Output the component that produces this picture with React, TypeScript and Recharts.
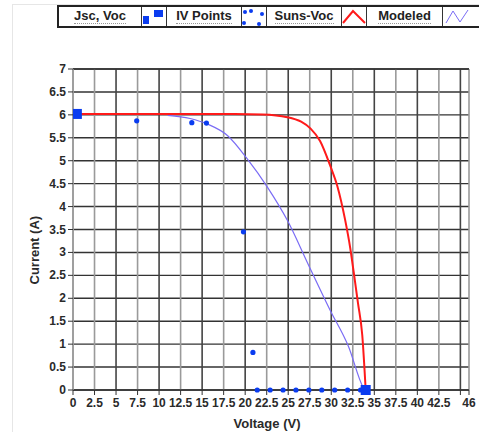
import React from 'react';
import {
  ComposedChart, Line, Scatter, XAxis, YAxis, CartesianGrid, ReferenceLine, Legend,
} from 'recharts';

const jscVoc = [
  { x: 0.45, y: 6.02 },
  { x: 34.0, y: 0 },
];

const ivPoints = [
  { x: 7.4, y: 5.87 }, { x: 13.8, y: 5.83 }, { x: 15.5, y: 5.82 }, { x: 19.8, y: 3.45 },
  { x: 20.9, y: 0.82 }, { x: 21.4, y: 0 }, { x: 22.9, y: 0 }, { x: 24.4, y: 0 },
  { x: 25.9, y: 0 }, { x: 27.4, y: 0 }, { x: 28.9, y: 0 }, { x: 30.4, y: 0 },
  { x: 31.9, y: 0 }, { x: 33.4, y: 0 }, { x: 33.8, y: 0 },
];

const sunsVoc = [
  { x: 0, y: 6.02 }, { x: 10, y: 6.02 }, { x: 18.8, y: 6.02 }, { x: 22, y: 6.01 },
  { x: 24.9, y: 5.95 }, { x: 26.5, y: 5.85 }, { x: 27.6, y: 5.7 }, { x: 28.7, y: 5.43 },
  { x: 29.9, y: 4.88 }, { x: 30.7, y: 4.45 }, { x: 31.6, y: 3.72 }, { x: 32.2, y: 3.1 },
  { x: 32.6, y: 2.58 }, { x: 33.1, y: 1.9 }, { x: 33.6, y: 1.2 }, { x: 34.0, y: 0 },
];

const modeled = [
  { x: 11, y: 5.99 }, { x: 13.6, y: 5.92 }, { x: 15.6, y: 5.8 }, { x: 18, y: 5.54 },
  { x: 20.2, y: 5.05 }, { x: 22.6, y: 4.42 }, { x: 24.9, y: 3.7 }, { x: 27.3, y: 2.75 },
  { x: 29.9, y: 1.73 }, { x: 32, y: 0.95 }, { x: 33.7, y: 0.06 }, { x: 33.9, y: 0 },
];

const xTicks = [0, 2.5, 5, 7.5, 10, 12.5, 15, 17.5, 20, 22.5, 25, 27.5, 30, 32.5, 35, 37.5, 40, 42.5, 45, 46];
const xHiddenLabels = [45];
const yTicks = [0, 0.5, 1, 1.5, 2, 2.5, 3, 3.5, 4, 4.5, 5, 5.5, 6, 6.5, 7];
const xGridMajor = [5, 10, 15, 20, 25, 30, 35, 40, 45];
const xGridMinor = [0, 2.5, 7.5, 12.5, 17.5, 22.5, 27.5, 32.5, 37.5, 42.5, 46];

const legendItems = ['Jsc, Voc', 'IV Points', 'Suns-Voc', 'Modeled'];

const FONT = 'Arial, "Liberation Sans", Helvetica, sans-serif';
const BLUE = '#0a3cf0';
const RED = '#ff1a1a';
const MODEL = '#7a6cf5';

const SquareShape = (props: any) => {
  const { cx, cy } = props;
  if (cx == null || cy == null) return null;
  return <rect x={cx - 5} y={cy - 5} width={10} height={10} fill={BLUE} />;
};

const DotShape = (props: any) => {
  const { cx, cy } = props;
  if (cx == null || cy == null) return null;
  return <circle cx={cx} cy={cy} r={2.6} fill={BLUE} />;
};

const XTick = (props: any) => {
  const { x, y, payload } = props;
  if (xHiddenLabels.includes(payload.value)) return null;
  return (
    <text x={x} y={y + 10} textAnchor="middle" fontSize={12} fontWeight="bold" fill="#2a2a2a" fontFamily={FONT}>
      {payload.value}
    </text>
  );
};

const YTick = (props: any) => {
  const { x, y, payload } = props;
  return (
    <text x={x} y={y + 4} textAnchor="end" fontSize={12} fontWeight="bold" fill="#2a2a2a" fontFamily={FONT}>
      {payload.value}
    </text>
  );
};

const icons = [
  <svg width={24} height={20} key="i0">
    <rect x={1} y={9} width={6} height={8} fill={BLUE} />
    <rect x={12} y={3} width={9} height={7} fill={BLUE} />
  </svg>,
  <svg width={24} height={20} key="i1">
    <circle cx={3} cy={5} r={2} fill={BLUE} />
    <circle cx={9} cy={4} r={2} fill={BLUE} />
    <circle cx={2} cy={16} r={2} fill={BLUE} />
    <circle cx={17} cy={17} r={2} fill={BLUE} />
    <circle cx={20} cy={7} r={2} fill={BLUE} />
  </svg>,
  <svg width={24} height={20} key="i2">
    <polyline points="1,16 11,4 23,16" fill="none" stroke={RED} strokeWidth={2} />
  </svg>,
  <svg width={30} height={20} key="i3">
    <polyline points="3,16 10,4 17,15 25,3" fill="none" stroke={MODEL} strokeWidth={1} />
  </svg>,
];

const textWidths = [82, 74, 74, 75];
const iconWidths = [24, 24, 24, 40];

const LegendBox = () => (
  <div
    style={{
      display: 'flex',
      border: '2px solid #222',
      height: 19,
      width: 'max-content',
      background: '#fff',
      fontFamily: FONT,
      fontWeight: 'bold',
      fontSize: 13,
      color: '#222',
      whiteSpace: 'nowrap',
    }}
  >
    {legendItems.map((label, i) => (
      <React.Fragment key={label}>
        <div
          style={{
            width: textWidths[i],
            flexShrink: 0,
            borderRight: '1px solid #333',
            borderLeft: i === 0 ? 'none' : '1px solid #333',
            display: 'flex',
            alignItems: 'center',
            justifyContent: 'center',
          }}
        >
          <span style={{ borderBottom: '1px dotted #999', lineHeight: '14px' }}>{label}</span>
        </div>
        <div style={{ width: iconWidths[i], flexShrink: 0, display: 'flex', alignItems: 'center', justifyContent: 'flex-start' }}>
          {icons[i]}
        </div>
      </React.Fragment>
    ))}
  </div>
);

export default function App() {
  return (
    <div style={{ position: 'absolute', left: 0, top: 0, width: 479, height: 432, overflow: 'hidden', background: '#fff' }}>
      <div style={{ position: 'absolute', left: 12, top: 4, right: 0, bottom: 0, borderLeft: '1px solid #e6e6e6', borderTop: '1px solid #e6e6e6' }} />
      <ComposedChart
        width={479}
        height={432}
        margin={{ top: 46, right: 10, bottom: 0, left: 0 }}
        style={{ position: 'absolute', left: 0, top: 0, overflow: 'hidden' }}
      >
        <CartesianGrid vertical={false} stroke="#333" strokeWidth={1.4} />
        {xGridMinor.map((v) => (
          <ReferenceLine key={'mn' + v} x={v} stroke="#9a9a9a" strokeWidth={1.6} ifOverflow="extendDomain" />
        ))}
        {xGridMajor.map((v) => (
          <ReferenceLine key={'mj' + v} x={v} stroke="#444" strokeWidth={1.6} />
        ))}
        <ReferenceLine y={7} stroke="#333" strokeWidth={1.4} />
        <XAxis
          type="number"
          dataKey="x"
          domain={[0, 46]}
          ticks={xTicks}
          interval={0}
          allowDataOverflow
          height={42}
          tick={<XTick />}
          tickSize={5}
          axisLine={{ stroke: '#333', strokeWidth: 1.4 }}
          tickLine={{ stroke: '#333' }}
          label={{ value: 'Voltage (V)', position: 'insideBottom', offset: 4, fontSize: 13, fontWeight: 'bold', fill: '#2a2a2a', fontFamily: FONT, dx: -4 }}
        />
        <YAxis
          type="number"
          dataKey="y"
          domain={[0, 7]}
          ticks={yTicks}
          interval={0}
          width={73}
          tick={<YTick />}
          tickSize={5}
          axisLine={{ stroke: '#999', strokeWidth: 1.4 }}
          tickLine={{ stroke: '#333' }}
          label={{ value: 'Current (A)', angle: -90, position: 'insideLeft', offset: 34, dy: 55, fontSize: 13, fontWeight: 'bold', fill: '#2a2a2a', fontFamily: FONT }}
        />
        <Legend content={<LegendBox />} verticalAlign="top" align="left" wrapperStyle={{ top: 5, left: 57, width: 440 }} />
        <Line data={modeled} dataKey="y" type="monotone" stroke={MODEL} strokeWidth={1.2} dot={false} isAnimationActive={false} legendType="none" />
        <Line data={sunsVoc} dataKey="y" type="monotone" stroke={RED} strokeWidth={2} dot={false} isAnimationActive={false} legendType="none" />
        <Scatter data={ivPoints} dataKey="y" shape={<DotShape />} isAnimationActive={false} legendType="none" />
        <Scatter data={jscVoc} dataKey="y" shape={<SquareShape />} isAnimationActive={false} legendType="none" />
      </ComposedChart>
    </div>
  );
}
